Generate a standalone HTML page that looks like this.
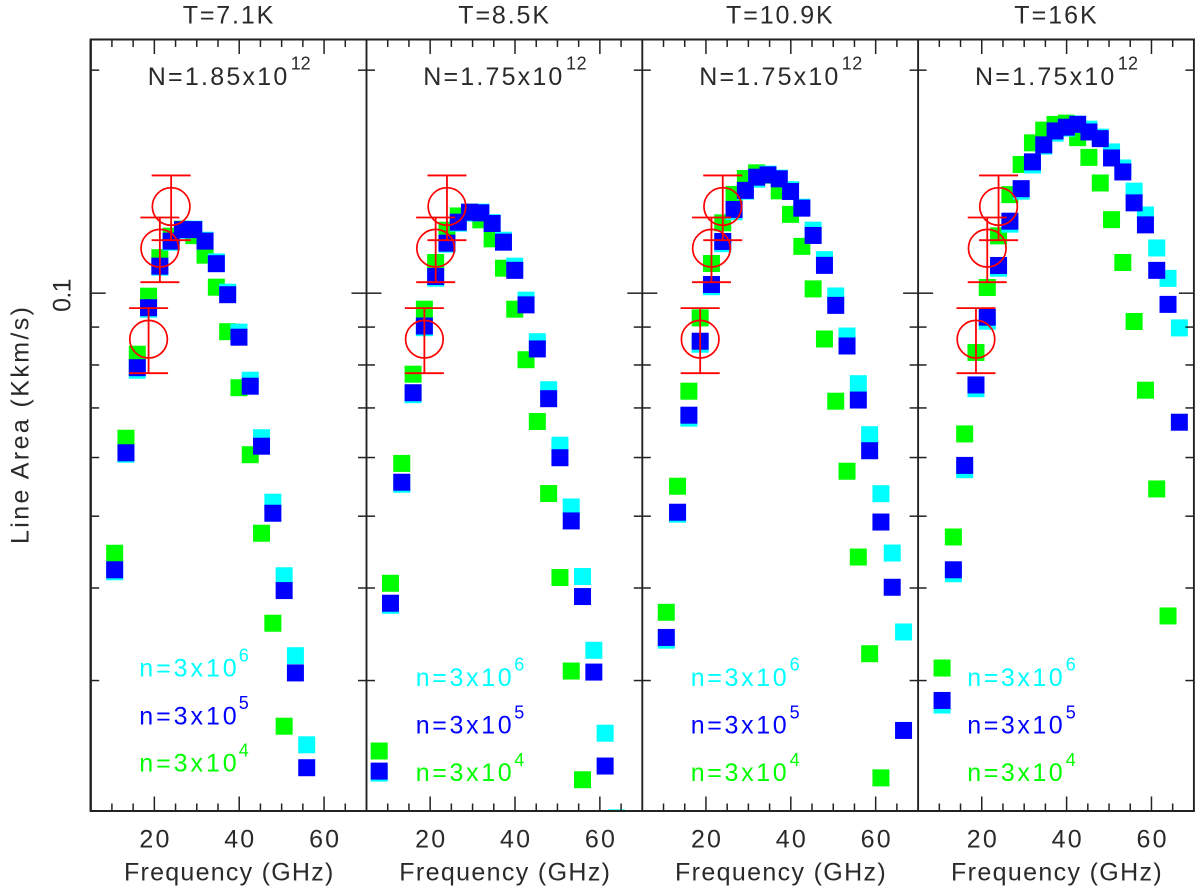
<!DOCTYPE html>
<html lang="en">
<head>
<meta charset="utf-8">
<title>Line Area versus Frequency</title>
<style>
html,body{margin:0;padding:0;background:#fff;width:1200px;height:892px;overflow:hidden}
svg{display:block;position:absolute;left:0;top:0;filter:blur(.35px)}
text{font-family:"Liberation Sans",sans-serif;fill:#2a2a2a}
.big{font-size:25px}
.sup{font-size:18px}
text.c{fill:#00ffff}text.b{fill:#0000ff}text.g{fill:#00ff00}
</style>
</head>
<body>
<svg id="chart" xmlns="http://www.w3.org/2000/svg" width="1200" height="892" viewBox="0 0 1200 892">
  <defs><clipPath id="plot-clip"><rect x="90.7" y="39.5" width="1103.2" height="771.5"/></clipPath></defs>
  <g id="marks" clip-path="url(#plot-clip)"></g>
  <g id="axes"></g>

  <text class="big" transform="translate(28.3,544) rotate(-90)" textLength="237">Line Area (Kkm/s)</text>

  <text class="big" x="182.7" y="23.3" textLength="90.6">T=7.1K</text>
  <text class="big" x="458.3" y="23.3" textLength="90.7">T=8.5K</text>
  <text class="big" x="726" y="23.3" textLength="106.7">T=10.9K</text>
  <text class="big" x="1014.3" y="23.3" textLength="82.4">T=16K</text>

  <text class="big" x="147.7" y="85" textLength="139.6">N=1.85x10</text>
  <text class="sup" x="290.7" y="69.3" textLength="20">12</text>
  <text class="big" x="423.3" y="85" textLength="139">N=1.75x10</text>
  <text class="sup" x="566" y="69.3" textLength="20.7">12</text>
  <text class="big" x="699.3" y="85" textLength="139">N=1.75x10</text>
  <text class="sup" x="841.7" y="69.3" textLength="20.6">12</text>
  <text class="big" x="975" y="85" textLength="139.3">N=1.75x10</text>
  <text class="sup" x="1117.7" y="69.3" textLength="20.3">12</text>

  <text class="big c" x="139.3" y="676.7" textLength="97.4">n=3x10</text>
  <text class="sup c" x="238.7" y="661.7" textLength="9.6">6</text>
  <text class="big b" x="139.3" y="724.3" textLength="97.4">n=3x10</text>
  <text class="sup b" x="238.7" y="709" textLength="9.6">5</text>
  <text class="big g" x="139.3" y="771.7" textLength="97.4">n=3x10</text>
  <text class="sup g" x="238.7" y="756.7" textLength="9.6">4</text>

  <text class="big c" x="415.7" y="686" textLength="96">n=3x10</text>
  <text class="sup c" x="514.3" y="670.7" textLength="9.7">6</text>
  <text class="big b" x="415.7" y="733.7" textLength="96">n=3x10</text>
  <text class="sup b" x="514.3" y="718.3" textLength="9.7">5</text>
  <text class="big g" x="415.7" y="781" textLength="96">n=3x10</text>
  <text class="sup g" x="514.3" y="766" textLength="9.7">4</text>

  <text class="big c" x="690.7" y="686" textLength="96">n=3x10</text>
  <text class="sup c" x="789.6" y="670.7" textLength="9.7">6</text>
  <text class="big b" x="690.7" y="733.7" textLength="96">n=3x10</text>
  <text class="sup b" x="789.6" y="718.3" textLength="9.7">5</text>
  <text class="big g" x="690.7" y="781" textLength="96">n=3x10</text>
  <text class="sup g" x="789.6" y="766" textLength="9.7">4</text>

  <text class="big c" x="967.3" y="686" textLength="95.4">n=3x10</text>
  <text class="sup c" x="1065.7" y="670.7" textLength="9.8">6</text>
  <text class="big b" x="967.3" y="733.7" textLength="95.4">n=3x10</text>
  <text class="sup b" x="1065.7" y="718.3" textLength="9.8">5</text>
  <text class="big g" x="967.3" y="781" textLength="95.4">n=3x10</text>
  <text class="sup g" x="1065.7" y="766" textLength="9.8">4</text>

  <text class="big" x="124" y="880.7" textLength="209.3">Frequency (GHz)</text>
  <text class="big" x="399.3" y="880.7" textLength="210.7">Frequency (GHz)</text>
  <text class="big" x="675" y="880.7" textLength="210.7">Frequency (GHz)</text>
  <text class="big" x="951" y="880.7" textLength="210.7">Frequency (GHz)</text>
</svg>

<script>
// Transition frequencies (GHz); series arrays below line up with this list, null = no point.
const freqs = [7.99,10.65,13.31,15.98,18.64,21.30,23.96,26.63,29.29,31.95,34.61,37.28,39.94,42.60,45.26,47.93,50.59,53.25,55.91,58.58,61.24,63.90,66.57];

// Panel 1, T=7.1K
const p1Green = [null,.04456,.06371,.08272,.09907,.11167,.11939,.12202,.11958,.11254,.10188,.08872,.07454,.06053,.04742,.03585,.02603];
const p1Cyan  = [null,.04207,.06062,.07871,.09515,.10842,.11718,.12163,.12202,.11791,.11022,.10031,.08858,.0763,.06381,.05222,.04155,.03241,.02457];
const p1Blue  = [null,.04233,.0609,.07933,.09559,.10876,.11755,.12183,.12183,.11755,.1096,.09953,.08721,.07489,.06215,.05046,.03968,.03072,.02288];

// Panel 2, T=8.5K
const p2Green = [.0241,.04059,.05891,.07774,.09515,.11001,.12163,.12713,.12863,.1256,.1184,.10808,.09515,.08132,.06711,.05365,.04132,.0309,.02204];
const p2Cyan  = [.0225,.03791,.05522,.07294,.08983,.10477,.11646,.12431,.12823,.12863,.1245,.11791,.10876,.09785,.086,.07408,.06234,.05145,.04145,.03296,.02547,.01958];
const p2Blue  = [.02264,.03815,.05557,.07339,.0903,.10533,.11682,.1247,.12863,.12836,.12419,.11718,.10735,.09643,.08409,.07204,.05996,.04927,.03895,.0308,.023];

// Panel 3, T=10.9K
const p3Green = [null,.03709,.05488,.07374,.09261,.10967,.12443,.13591,.14284,.14535,.14431,.13744,.12776,.11566,.10134,.08673,.07148,.0575,.04404,.03261,.02217];
const p3Cyan  = [null,.03401,.05031,.06781,.08533,.10204,.11664,.12883,.13731,.14253,.14477,.14297,.13795,.13065,.12163,.11098,.09913,.08753,.07548,.06441,.05362,.04459,.03489];
const p3Blue  = [null,.0343,.05062,.06844,.08613,.10274,.11744,.12972,.13765,.14342,.14444,.14267,.13718,.13025,.11965,.10903,.09628,.08486,.07174,.06128,.0491,.04009,.02569];

// Panel 4, T=16K
const p4Green = [null,.03119,.04687,.06457,.08316,.10179,.11951,.13583,.14919,.15956,.16598,.16896,.16965,.16215,.15252,.14085,.12567,.11001,.09158,.07397,.05442,.03667];
const p4Cyan  = [null,.0278,.04181,.05777,.07431,.09166,.10808,.12393,.13731,.14897,.15793,.16444,.16702,.16912,.1665,.16241,.15511,.14758,.13731,.12752,.11509,.10471,.08977];
const p4Blue  = [null,.0282,.04233,.05855,.07519,.09281,.10899,.12508,.13838,.1504,.15857,.16558,.16754,.16901,.16505,.16166,.15224,.14576,.13241,.12365,.10735,.09658,.06696];

// Observed points, repeated in every panel
const obsFreq = [18.64,21.30,23.96];
const obsArea = [.08667,.1150,.13093];
const obsLow  = [.07798,.10348,.11791];
const obsHigh = [.09545,.12653,.14418];

// Axis ticks
const xMajorTicks = [20,40,60];
const xMajorLabels = ['20','40','60'];
const xMinorTicks = [10,15,25,30,35,45,50,55,65];
const yMajorTicks = [0.1];
const yMajorLabels = ['0.1'];
const yMinorTicks = [0.2,0.09,0.08,0.07,0.06,0.05,0.04,0.03];

const panelGreen = [p1Green,p2Green,p3Green,p4Green];
const panelCyan = [p1Cyan,p2Cyan,p3Cyan,p4Cyan];
const panelBlue = [p1Blue,p2Blue,p3Blue,p4Blue];

const NS = 'http://www.w3.org/2000/svg';
const marks = document.getElementById('marks');
const axes = document.getElementById('axes');
const frameLeft = 90.7, panelWidth = 275.8, frameTop = 39.5, frameBottom = 811;
const xMin = 5, xMax = 70, yMin = 0.02, yMax = 0.22;
const squareSize = 17;

function panelLeft(i){ return frameLeft + i * panelWidth; }
function xScale(i, f){ return panelLeft(i) + (f - xMin) / (xMax - xMin) * panelWidth; }
function yScale(v){
  return frameBottom - (Math.log10(v) - Math.log10(yMin)) / (Math.log10(yMax) - Math.log10(yMin)) * (frameBottom - frameTop);
}

function line(parent, x1, y1, x2, y2, color, width){
  const el = document.createElementNS(NS, 'line');
  el.setAttribute('x1', x1);
  el.setAttribute('y1', y1);
  el.setAttribute('x2', x2);
  el.setAttribute('y2', y2);
  el.setAttribute('stroke', color);
  el.setAttribute('stroke-width', width);
  parent.appendChild(el);
  return el;
}

function drawSeries(i, values, color, name){
  values.forEach(function(v, k){
    if (v === null) return;
    const el = document.createElementNS(NS, 'rect');
    el.setAttribute('x', xScale(i, freqs[k]) - squareSize / 2);
    el.setAttribute('y', yScale(v) - squareSize / 2);
    el.setAttribute('width', squareSize);
    el.setAttribute('height', squareSize);
    el.setAttribute('fill', color);
    
    
    marks.appendChild(el);
  });
}

function drawObserved(i){
  const red = '#ff0000';
  obsFreq.forEach(function(f, k){
    const x = xScale(i, f);
    const bar = line(marks, x, yScale(obsHigh[k]), x, yScale(obsLow[k]), red, 1.8);
    
    
    const capTop = line(marks, x - 19.5, yScale(obsHigh[k]), x + 19.5, yScale(obsHigh[k]), red, 1.8);
    
    
    const capLow = line(marks, x - 19.5, yScale(obsLow[k]), x + 19.5, yScale(obsLow[k]), red, 1.8);
    
    
    const el = document.createElementNS(NS, 'circle');
    el.setAttribute('cx', x);
    el.setAttribute('cy', yScale(obsArea[k]));
    el.setAttribute('r', 18.8);
    el.setAttribute('fill', 'none');
    el.setAttribute('stroke', red);
    el.setAttribute('stroke-width', 1.7);
    
    
    marks.appendChild(el);
  });
}

function drawAxes(i){
  const ink = '#222';
  const left = panelLeft(i), right = left + panelWidth;
  xMinorTicks.forEach(function(f){
    const x = xScale(i, f);
    const a = line(axes, x, frameTop, x, frameTop + 7.5, ink, 1.5);
    
    
    const b = line(axes, x, frameBottom, x, frameBottom - 7.5, ink, 1.5);
    
    
  });
  xMajorTicks.forEach(function(f, k){
    const x = xScale(i, f);
    const a = line(axes, x, frameTop, x, frameTop + 14.5, ink, 1.5);
    
    
    const b = line(axes, x, frameBottom, x, frameBottom - 14.5, ink, 1.5);
    
    
    const t = document.createElementNS(NS, 'text');
    t.setAttribute('x', x);
    t.setAttribute('y', 847.3);
    t.setAttribute('class', 'big');
    t.setAttribute('text-anchor', 'middle');
    t.setAttribute('textLength', 30);
    
    
    t.textContent = xMajorLabels[k];
    axes.appendChild(t);
  });
  yMinorTicks.forEach(function(v){
    const y = yScale(v);
    const a = line(axes, left, y, left + 8.5, y, ink, 1.5);
    
    
    const b = line(axes, right, y, right - 8.5, y, ink, 1.5);
    
    
  });
  yMajorTicks.forEach(function(v){
    const y = yScale(v);
    const a = line(axes, left, y, left + 15, y, ink, 1.5);
    
    
    const b = line(axes, right, y, right - 15, y, ink, 1.5);
    
    
  });
  const edge = line(axes, left, frameTop, left, frameBottom, ink, i === 0 ? 2.4 : 1.9);
  
  
}

for (let i = 0; i < 4; i++) {
  drawSeries(i, panelGreen[i], '#00ff00', 'density-3e4-point');
  drawSeries(i, panelCyan[i], '#00ffff', 'density-3e6-point');
  drawSeries(i, panelBlue[i], '#0000ff', 'density-3e5-point');
  drawObserved(i);
  drawAxes(i);
}

const frameRight = panelLeft(4);
const rightEdge = line(axes, frameRight, frameTop, frameRight, frameBottom, '#222', 1.9);


const topEdge = line(axes, frameLeft - 1, frameTop, frameRight + 1, frameTop, '#222', 1.9);


const bottomEdge = line(axes, frameLeft - 1, frameBottom, frameRight + 1, frameBottom, '#222', 1.9);



yMajorTicks.forEach(function(v, k){
  const t = document.createElementNS(NS, 'text');
  t.setAttribute('transform', 'translate(70.7,' + (yScale(v) + 18.7) + ') rotate(-90)');
  t.setAttribute('class', 'big');
  t.setAttribute('textLength', 33.4);
  
  
  t.textContent = yMajorLabels[k];
  axes.appendChild(t);
});
</script>
</body>
</html>
